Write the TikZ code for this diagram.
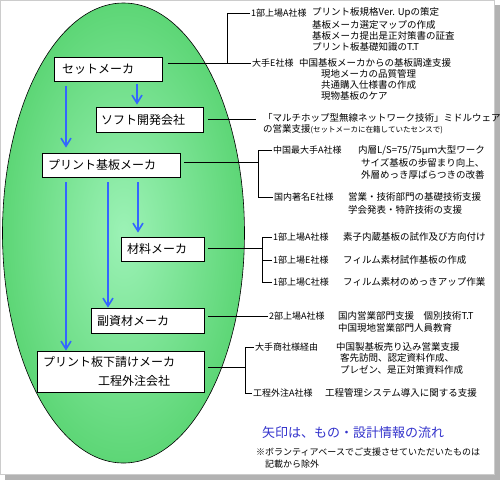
\documentclass[tikz,border=0pt]{standalone}
\usepackage{fontspec}
\newfontfamily\jp{Noto Sans CJK JP}
\usetikzlibrary{arrows.meta}
\definecolor{gIn}{HTML}{9CF2B6}
\definecolor{gOut}{HTML}{5DD676}
\definecolor{arrblue}{HTML}{3366FF}
\definecolor{txtblue}{HTML}{3333CC}
\begin{document}
\begin{tikzpicture}[x=1pt,y=-1pt,
  box/.style={draw=black, line width=0.8pt, fill=white, inner sep=0pt, font=\jp\fontsize{12}{19}\selectfont, align=left, anchor=center},
  lbl/.style={anchor=west, inner sep=1pt, font=\jp\fontsize{9.5}{11}\selectfont},
  co/.style={anchor=west, inner sep=1pt, font=\jp\fontsize{9}{11}\selectfont},
  conn/.style={draw=black, line width=0.7pt},
  arr/.style={draw=arrblue, line width=1.6pt, -{Straight Barb[length=8pt,width=10pt,line width=1.6pt]}},
]
\useasboundingbox (0,0) rectangle (500,480);
% frame with shadow
\fill[gray!60] (5,5) rectangle (500,480);
\draw[gray!40, fill=white] (0,0) rectangle (494,474);

% ellipse
\shade[inner color=gIn, outer color=gOut] (123.5,233) ellipse [x radius=121pt, y radius=230pt];
\draw[black, line width=0.6pt] (123.5,233) ellipse [x radius=121pt, y radius=230pt];

% boxes
\node[box, minimum width=108pt, minimum height=24pt, text width=92pt] (set) at (108,69) {セットメーカ};
\node[box, minimum width=107pt, minimum height=25pt, text width=97pt] (soft) at (149.5,119.5) {ソフト開発会社};
\node[box, minimum width=138pt, minimum height=24pt, text width=126pt] (pcb) at (111,165) {プリント基板メーカ};
\node[box, minimum width=83pt, minimum height=24pt, text width=71pt] (mat) at (162.5,249) {材料メーカ};
\node[box, minimum width=113pt, minimum height=25pt, text width=101pt] (sub) at (147.5,320.5) {副資材メーカ};
\node[box, minimum width=167pt, minimum height=41pt, text width=155pt] (low) at (120.5,371.5) {プリント板下請けメーカ\\\hspace*{55pt}工程外注会社};

% arrow guide coordinates
\coordinate (ax1) at (66,0);
\coordinate (ax2) at (137,0);
\coordinate (ax3) at (108,0);
\coordinate (ax4) at (138,0);
\draw[arr, shorten <=5pt, shorten >=5pt] (set.south -| ax1) -- (pcb.north -| ax1);
\draw[arr, shorten <=3pt, shorten >=2pt] (set.south -| ax2) -- (soft.north -| ax2);
\draw[arr, shorten <=5pt] (pcb.south -| ax1) -- (low.north -| ax1);
\draw[arr, shorten <=5pt] (pcb.south -| ax3) -- (sub.north -| ax3);
\draw[arr, shorten <=5pt, shorten >=4pt] (pcb.south -| ax4) -- (mat.north -| ax4);

% block 1 / 2
\node[co] (a1) at (250,13) {1部上場A社様};
\node[lbl] at (311,13) {プリント板規格Ver. Upの策定};
\node[lbl] at (311,25) {基板メーカ選定マップの作成};
\node[lbl] at (311,36) {基板メーカ提出是正対策書の証査};
\node[lbl] at (311,47) {プリント板基礎知識のT.T};
\node[co] (e1) at (251,63) {大手E社様};
\node[lbl] at (298,63) {中国基板メーカからの基板調達支援};
\node[lbl] at (320,74) {現地メーカの品質管理};
\node[lbl] at (320,85) {共通購入仕様書の作成};
\node[lbl] at (320,96) {現物基板のケア};
\coordinate (j1) at (227,0);
\draw[conn, shorten <=6pt] (set.east |- e1.west) -- (e1.west);
\draw[conn] (j1 |- e1.west) |- (a1.west);

% block 3
\node[lbl] (m1) at (262,118) {「マルチホップ型無線ネットワーク技術」ミドルウェア};
\node[lbl] at (262,129) {の営業支援{\fontsize{7.5}{9}\selectfont (セットメーカに在籍していたセンスで)}};
\draw[conn, shorten <=5pt, shorten >=6pt] (soft.east) -- (soft.east -| m1.west);

% block 4 / 5
\node[co] (c1) at (272,150) {中国最大手A社様};
\node[lbl] at (357,150) {内層L/S=75/75μｍ大型ワーク};
\node[lbl] at (360,163) {サイズ基板の歩留まり向上、};
\node[lbl] at (360,175) {外層めっき厚ばらつきの改善};
\node[co] (c2) at (273,197) {国内著名E社様};
\node[lbl] at (347,197) {営業・技術部門の基礎技術支援};
\node[lbl] at (347,210) {学会発表・特許技術の支援};
\coordinate (j3) at (258,0);
\draw[conn, shorten <=4pt] ([yshift=3pt]pcb.east) -- ([yshift=3pt]pcb.east -| j3);
\draw[conn] (c1.west) -| (j3 |- c2.west) -- (c2.west);

% block 6
\node[co] (d1) at (272,237) {1部上場A社様};
\node[lbl] at (342,237) {素子内蔵基板の試作及び方向付け};
\node[co] (d2) at (272,260) {1部上場E社様};
\node[lbl] at (342,260) {フィルム素材試作基板の作成};
\node[co] (d3) at (272,282) {1部上場C社様};
\node[lbl] at (342,282) {フィルム素材のめっきアップ作業};
\coordinate (j4) at (262,0);
\draw[conn, shorten <=4pt] ([yshift=1pt]mat.east) -- ([yshift=1pt]mat.east -| j4);
\draw[conn] (d1.west) -| (j4 |- d3.west) -- (d3.west);
\draw[conn] (j4 |- d2.west) -- (d2.west);

% block 7
\node[co] (f1) at (268,316) {2部上場A社様};
\node[lbl] at (337,316) {国内営業部門支援　個別技術T.T};
\node[lbl] at (337,328) {中国現地営業部門人員教育};
\draw[conn, shorten <=4pt] (sub.east |- f1.west) -- (f1.west);

% block 8
\node[co] (g1) at (254,347) {大手商社様経由};
\node[lbl] at (335,347) {中国製基板売り込み営業支援};
\node[lbl] at (339,358) {客先訪問、認定資料作成、};
\node[lbl] at (339,370) {プレゼン、是正対策資料作成};
\node[co] (g2) at (252,393) {工程外注A社様};
\node[lbl] at (324,393) {工程管理システム導入に関する支援};
\coordinate (j6) at (245,0);
\draw[conn, shorten <=4pt] ([yshift=4pt]low.east) -- ([yshift=4pt]low.east -| j6);
\draw[conn] (g1.west) -| (j6 |- g2.west) -- (g2.west);

% legend and note
\node[anchor=west, inner sep=1pt, text=txtblue, font=\jp\fontsize{13}{15}\selectfont] (leg) at (261,433) {矢印は、もの・設計情報の流れ};
\node[anchor=west, inner sep=1pt, font=\jp\fontsize{9}{11}\selectfont] (n1) at (255,452) {※ボランティアベースでご支援させていただいたものは};
\node[anchor=west, inner sep=1pt, font=\jp\fontsize{9}{11}\selectfont] (n2) at (264,464) {記載から除外};
\end{tikzpicture}
\end{document}
